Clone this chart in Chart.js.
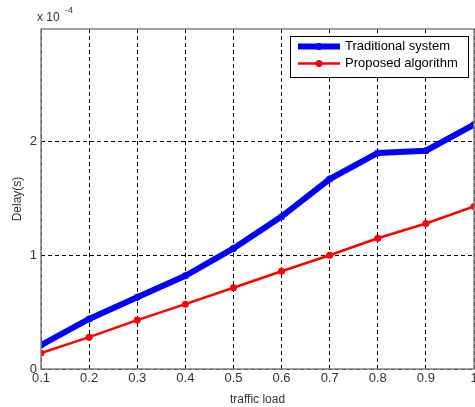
<!DOCTYPE html>
<html>
<head>
<meta charset="utf-8">
<script src="https://cdn.jsdelivr.net/npm/chart.js@4/dist/chart.umd.min.js"></script>
<style>
html,body{margin:0;padding:0;background:#fff;}
#wrap{position:relative;width:475px;height:407px;}
</style>
</head>
<body>
<div id="wrap"><canvas id="c" width="475" height="407"></canvas></div>
<script>
const trafficLoad = [0.1,0.2,0.3,0.4,0.5,0.6,0.7,0.8,0.9,1.0];
const traditional = [0.21,0.44,0.63,0.82,1.06,1.34,1.67,1.90,1.92,2.15];
const proposed = [0.14,0.28,0.43,0.57,0.715,0.86,1.0,1.15,1.28,1.43];
const yTicks = [0,1,2];
const xTitle = 'traffic load';
const yTitle = 'Delay(s)';
const seriesNames = ['Traditional system','Proposed algorithm'];

const FONT = 'Liberation Sans, Arial, sans-serif';
const TXT = '#333333';
const AXIS = '#808080';

const decor = {
  id:'decor',
  afterDraw(chart){
    const ctx = chart.ctx, a = chart.chartArea;
    ctx.save();
    ctx.strokeStyle = AXIS; ctx.lineWidth = 1.5; ctx.setLineDash([]);
    ctx.strokeRect(a.left, a.top, a.right - a.left, a.bottom - a.top);
    ctx.fillStyle = TXT;
    ctx.font = '12px ' + FONT;
    ctx.textBaseline = 'alphabetic'; ctx.textAlign = 'left';
    ctx.fillText('x 10', 37, 21);
    ctx.font = '9px ' + FONT;
    ctx.fillText('-4', 65, 13);
    const lx = 290, ly = 36, lw = 178, lh = 41;
    ctx.fillStyle = '#fff';
    ctx.fillRect(lx, ly, lw, lh);
    ctx.strokeStyle = '#000'; ctx.lineWidth = 1;
    ctx.strokeRect(lx + 0.5, ly + 0.5, lw, lh);
    const rows = [
      {name: seriesNames[0], color:'#0000ff', w:6, r:3.5, y:46.5},
      {name: seriesNames[1], color:'#ff0000', w:2.5, r:3.5, y:63.5}
    ];
    rows.forEach(rw=>{
      ctx.strokeStyle = rw.color; ctx.lineWidth = rw.w;
      ctx.beginPath(); ctx.moveTo(298, rw.y); ctx.lineTo(340, rw.y); ctx.stroke();
      ctx.fillStyle = rw.color;
      ctx.beginPath(); ctx.arc(319, rw.y, rw.r, 0, Math.PI*2); ctx.fill();
      ctx.fillStyle = '#000';
      ctx.font = '13px ' + FONT;
      ctx.textBaseline = 'middle';
      ctx.fillText(rw.name, 345, rw.y);
    });
    ctx.restore();
  }
};

new Chart(document.getElementById('c'), {
  type:'line',
  data:{
    datasets:[
      {label:seriesNames[0], data: trafficLoad.map((x,i)=>({x, y: traditional[i]})),
       borderColor:'#0000ff', backgroundColor:'#0000ff', borderWidth:6,
       pointRadius:3.5, pointBorderWidth:0, pointBackgroundColor:'#0000ff', tension:0},
      {label:seriesNames[1], data: trafficLoad.map((x,i)=>({x, y: proposed[i]})),
       borderColor:'#ff0000', backgroundColor:'#ff0000', borderWidth:2.5,
       pointRadius:3.5, pointBorderWidth:0, pointBackgroundColor:'#ff0000', tension:0}
    ]
  },
  options:{
    responsive:false, animation:false,
    layout:{autoPadding:false, padding:{top:29, right:1, left:0, bottom:0}},
    plugins:{legend:{display:false}, tooltip:{enabled:false}},
    scales:{
      x:{type:'linear', min:0.1, max:1.0,
         afterBuildTicks(s){ s.ticks = trafficLoad.map(v=>({value:v})); },
         afterFit(s){ s.height = 38; s.paddingRight = 0; s.paddingLeft = 0; },
         ticks:{color:TXT, font:{family:FONT, size:13}, padding:2, maxRotation:0,
                callback:(v)=> (Math.abs(v-1)<1e-9 ? '1' : v.toFixed(1))},
         grid:{color:'#000', lineWidth:1, drawTicks:false},
         border:{display:false, dash:[4,3]},
         title:{display:true, text:xTitle, color:TXT, font:{family:FONT, size:12}, padding:{top:2,bottom:0}}
      },
      y:{min:0, max:2.99,
         afterBuildTicks(s){ s.ticks = yTicks.map(v=>({value:v})); },
         afterFit(s){ s.width = 41; s.paddingTop = 0; s.paddingBottom = 0; },
         ticks:{color:TXT, font:{family:FONT, size:13}, padding:4},
         grid:{color:'#000', lineWidth:1, drawTicks:false},
         border:{display:false, dash:[4,3]},
         title:{display:true, text:yTitle, color:TXT, font:{family:FONT, size:12}, padding:{top:10,bottom:2}}
      }
    }
  },
  plugins:[decor]
});
</script>
</body>
</html>
